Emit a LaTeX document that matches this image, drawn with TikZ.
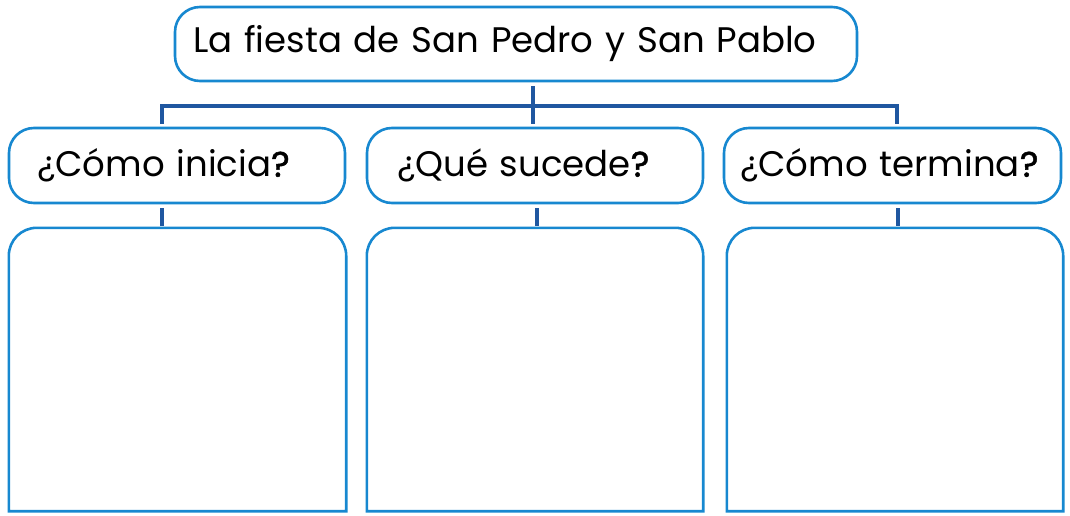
\documentclass[tikz,border=0pt]{standalone}
\usepackage{fontspec}
\setmainfont{Poppins}
\newfontface\qmfont{Poppins}[FakeBold=1.3]
\usetikzlibrary{calc}
\definecolor{boxblue}{HTML}{1788D0}
\definecolor{connblue}{HTML}{1F57A0}
\tikzset{
  rbox/.style={draw=boxblue, line width=2.6pt, rounded corners=25pt, fill=white, align=left, font=\fontsize{35.5}{40}\selectfont},
  conn/.style={draw=connblue, line width=4pt}
}
\newcommand{\qm}{{\qmfont ?}}
\newcommand{\lowered}[1]{\raisebox{-3pt}{#1}}
\begin{document}
\begin{tikzpicture}[x=1pt,y=1pt]
\useasboundingbox (0,0) rectangle (1070,515);
% title
\node[rbox, minimum height=74pt, text width=646pt, inner xsep=18pt, inner ysep=0pt] (t) at (516,471) {\lowered{La fiesta de San Pedro y San Pablo}};
% middle row
\node[rbox, minimum height=75pt, text width=280pt, inner xsep=28pt, inner ysep=0pt] (m1) at (177,349.5) {\lowered{¿Cómo inicia\qm}};
\node[rbox, minimum height=75pt, text width=276pt, inner xsep=30pt, inner ysep=0pt] (m2) at (535,349.5) {\lowered{¿Qué sucede\qm}};
\node[rbox, minimum height=75pt, text width=305pt, inner xsep=16pt, inner ysep=0pt] (m3) at (892.5,349.5) {\lowered{¿Cómo termina\qm}};
% bottom boxes (shape only)
\node[minimum width=337pt, minimum height=283pt, inner sep=0pt] (b1) at (177.5,145.5) {};
\node[minimum width=336pt, minimum height=283pt, inner sep=0pt] (b2) at (535,145.5) {};
\node[minimum width=336pt, minimum height=283pt, inner sep=0pt] (b3) at (895,145.5) {};
\foreach \b in {b1,b2,b3}{
  \draw[draw=boxblue, line width=2.6pt] (\b.south west) -- ($(\b.north west)+(0,-28)$) arc[start angle=180, end angle=90, radius=28pt] -- ($(\b.north east)+(-28,0)$) arc[start angle=90, end angle=0, radius=28pt] -- (\b.south east) -- cycle;
}
% connectors
\coordinate (j) at (533,409);
\draw[conn] ($(t.south -| j)+(0,-4)$) -- ($(m2.north -| j)+(0,3)$);
\draw[conn] ($(m1.north)+(-15,3)$) |- (j) -| ($(m3.north)+(4.5,3)$);
\draw[conn] ($(m1.south)+(-15,-4)$) -- ($(b1.north)+(-15.5,2)$);
\draw[conn] ($(m2.south)+(2,-4)$) -- ($(b2.north)+(2,2)$);
\draw[conn] ($(m3.south)+(5.5,-4)$) -- ($(b3.north)+(3,2)$);
\end{tikzpicture}
\end{document}
